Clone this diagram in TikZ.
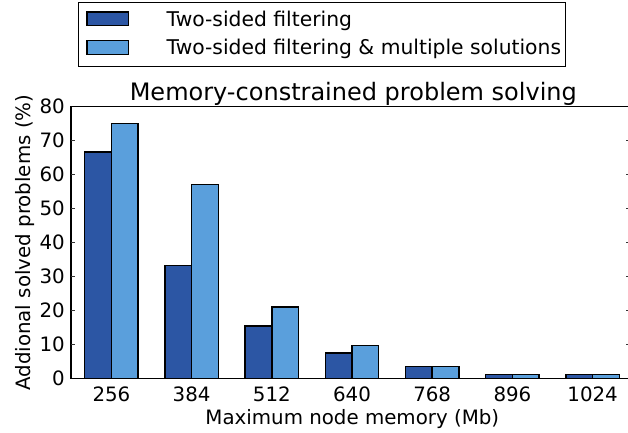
\documentclass[tikz,border=0pt]{standalone}
\usepackage{fontspec}
\setmainfont{DejaVu Sans}
\definecolor{barDark}{HTML}{2C56A4}
\definecolor{barLight}{HTML}{5A9FDC}
\begin{document}
\begin{tikzpicture}[x=1pt,y=-1pt,
  txt/.style={inner sep=0pt,font=\fontsize{19.8}{22}\selectfont},
  legtxt/.style={inner sep=0pt,font=\fontsize{20.3}{22}\selectfont},
  titletxt/.style={inner sep=0pt,font=\fontsize{24}{28}\selectfont},
  darkbar/.style={fill=barDark,draw=black,line width=1.5pt},
  lightbar/.style={fill=barLight,draw=black,line width=1.5pt},
  frame/.style={draw=black,line width=1.4pt},
  tickmark/.style={draw=black!80,line width=0.7pt}]
\useasboundingbox (0,0) rectangle (628,432);

% value -> vertical position: 0 at 378.7, 10 units = 34 px
\def\yz{378.7}
\def\ys{3.4}

% bars: group index / first series / second series
\foreach \i/\a/\b in {0/66.7/75, 1/33.3/57.1, 2/15.5/21.1, 3/7.5/9.75, 4/3.6/3.6, 5/1.2/1.2, 6/1.2/1.2}{
  \pgfmathsetmacro{\xl}{84.7+80.2*\i}
  \pgfmathsetmacro{\xm}{\xl+26.7}
  \pgfmathsetmacro{\xr}{\xm+26.7}
  \pgfmathsetmacro{\ya}{\yz-\ys*\a}
  \pgfmathsetmacro{\yb}{\yz-\ys*\b}
  \draw[darkbar] (\xl,\yz) rectangle (\xm,\ya);
  \draw[lightbar] (\xm,\yz) rectangle (\xr,\yb);
}

% axes frame and inward ticks
\draw[frame] (71,106.7) rectangle (629.5,\yz);
\foreach \v in {10,20,...,70}{
  \pgfmathsetmacro{\yy}{\yz-\ys*\v}
  \draw[tickmark] (71,\yy) -- (75,\yy);
  \draw[tickmark] (629.5,\yy) -- (625.5,\yy);
}

% y tick labels
\foreach \v in {0,10,...,80}{
  \pgfmathsetmacro{\yy}{\yz-\ys*\v}
  \node[txt,anchor=east] (yt\v) at (65,\yy) {\v};
}

% x tick labels
\foreach \i/\m in {0/256,1/384,2/512,3/640,4/768,5/896,6/1024}{
  \pgfmathsetmacro{\xc}{111.4+80.2*\i}
  \node[txt,anchor=base] (xt\i) at (\xc,401) {\m};
}

% axis labels and title
\node[txt,anchor=base] (xlabel) at (352.3,424.3) {Maximum node memory (Mb)};
\node[txt,anchor=base,rotate=90] (ylabel) at (30,242.7) {Addional solved problems (\%)};
\node[titletxt,anchor=base] (title) at (353.3,100) {Memory-constrained problem solving};

% legend
\draw[draw=black,line width=1.2pt] (78.5,2.7) rectangle (565.5,66.4);
\draw[darkbar] (86.9,11.8) rectangle (128.6,25.6);
\draw[lightbar] (86.9,40.6) rectangle (128.6,54.6);
\node[legtxt,anchor=base west] (leg1) at (166.5,26) {Two-sided filtering};
\node[legtxt,anchor=base west] (leg2) at (166.5,54.3) {Two-sided filtering \& multiple solutions};
\end{tikzpicture}
\end{document}
